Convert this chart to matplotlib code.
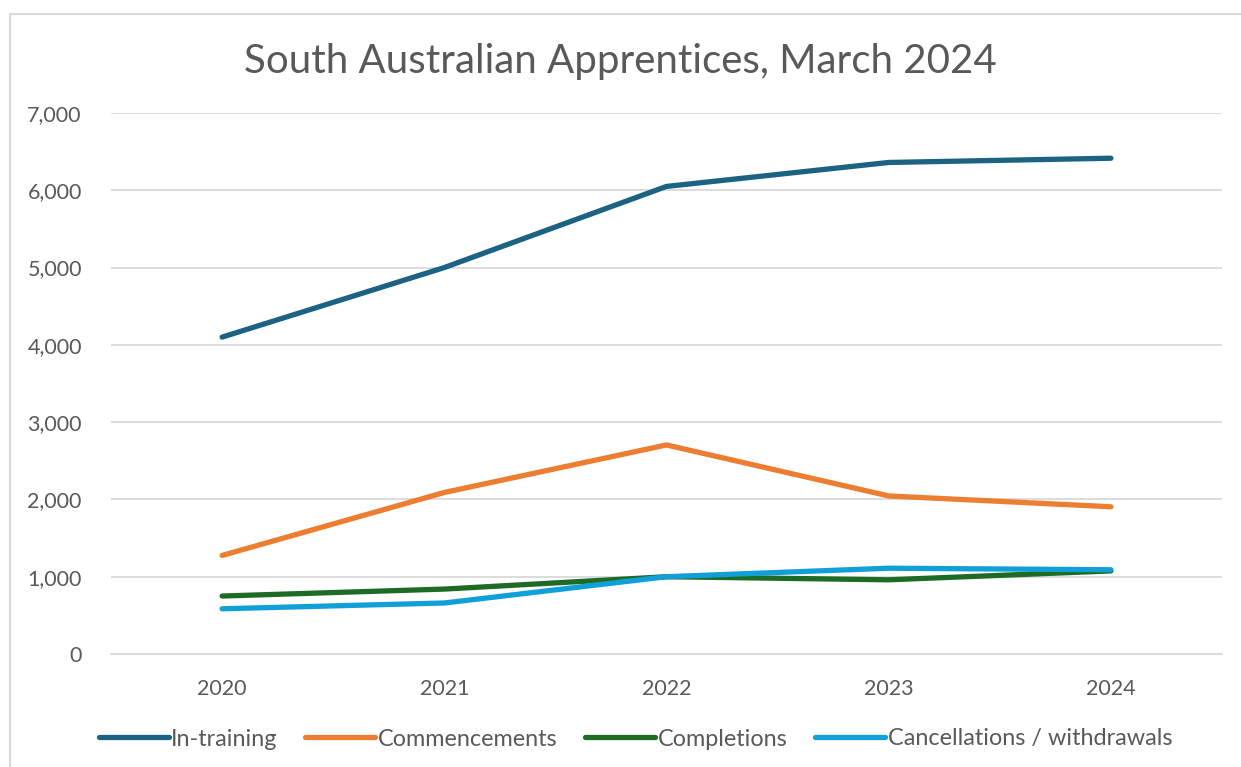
import numpy as np
import matplotlib.pyplot as plt
from matplotlib.patches import Rectangle
from matplotlib.ticker import FuncFormatter

years = ["2020", "2021", "2022", "2023", "2024"]
in_training = [4100, 5000, 6050, 6360, 6415]
commencements = [1275, 2090, 2705, 2045, 1905]
completions = [750, 840, 1000, 960, 1075]
cancellations = [585, 660, 1000, 1110, 1090]

series = [
    ("In-training", in_training, "#1C6282"),
    ("Commencements", commencements, "#ED7D31"),
    ("Completions", completions, "#1D6B25"),
    ("Cancellations / withdrawals", cancellations, "#109FD8"),
]

plt.rcParams["font.family"] = ["Lato", "DejaVu Sans"]
text_col = "#595959"
grid_col = "#D9D9D9"

fig = plt.figure(figsize=(12.41, 7.67), dpi=100)
fig.patches.append(Rectangle((10 / 1241, -0.1), 1.2, 1 - 14 / 767 + 0.1,
                             transform=fig.transFigure, fill=False,
                             edgecolor=grid_col, linewidth=1.5))

ax = fig.add_axes([111 / 1241, 1 - 654 / 767, (1222 - 111) / 1241, (654 - 113) / 767])
x = np.arange(len(years))
for name, vals, col in series:
    ax.plot(x, vals, color=col, linewidth=3.8, label=name, solid_capstyle="round")

ax.set_xlim(-0.5, len(years) - 0.5)
ax.set_ylim(0, 7000)
ax.set_yticks(np.arange(0, 7001, 1000))
ax.yaxis.set_major_formatter(FuncFormatter(lambda v, p: f"{int(v):,}"))
ax.set_xticks(x)
ax.set_xticklabels(years)
ax.grid(axis="y", color=grid_col, linewidth=1.3)
ax.set_axisbelow(True)
for s in ["top", "right", "left"]:
    ax.spines[s].set_visible(False)
ax.spines["bottom"].set_color(grid_col)
ax.spines["bottom"].set_linewidth(1.3)
ax.tick_params(axis="both", length=0, labelsize=15.5, colors=text_col)
ax.tick_params(axis="y", pad=21)
ax.tick_params(axis="x", pad=18)

fig.text(0.5, 1 - 61 / 767, "South Australian Apprentices, March 2024",
         ha="center", va="center", fontsize=29, color=text_col)

leg = fig.legend(loc="center", bbox_to_anchor=(0.512, 1 - 739 / 767), ncol=4,
                 frameon=False, fontsize=16.8, handlelength=3.0, handletextpad=0.1,
                 columnspacing=1.2, labelcolor=text_col)

fig.savefig("out.png", dpi=100, facecolor="white")
